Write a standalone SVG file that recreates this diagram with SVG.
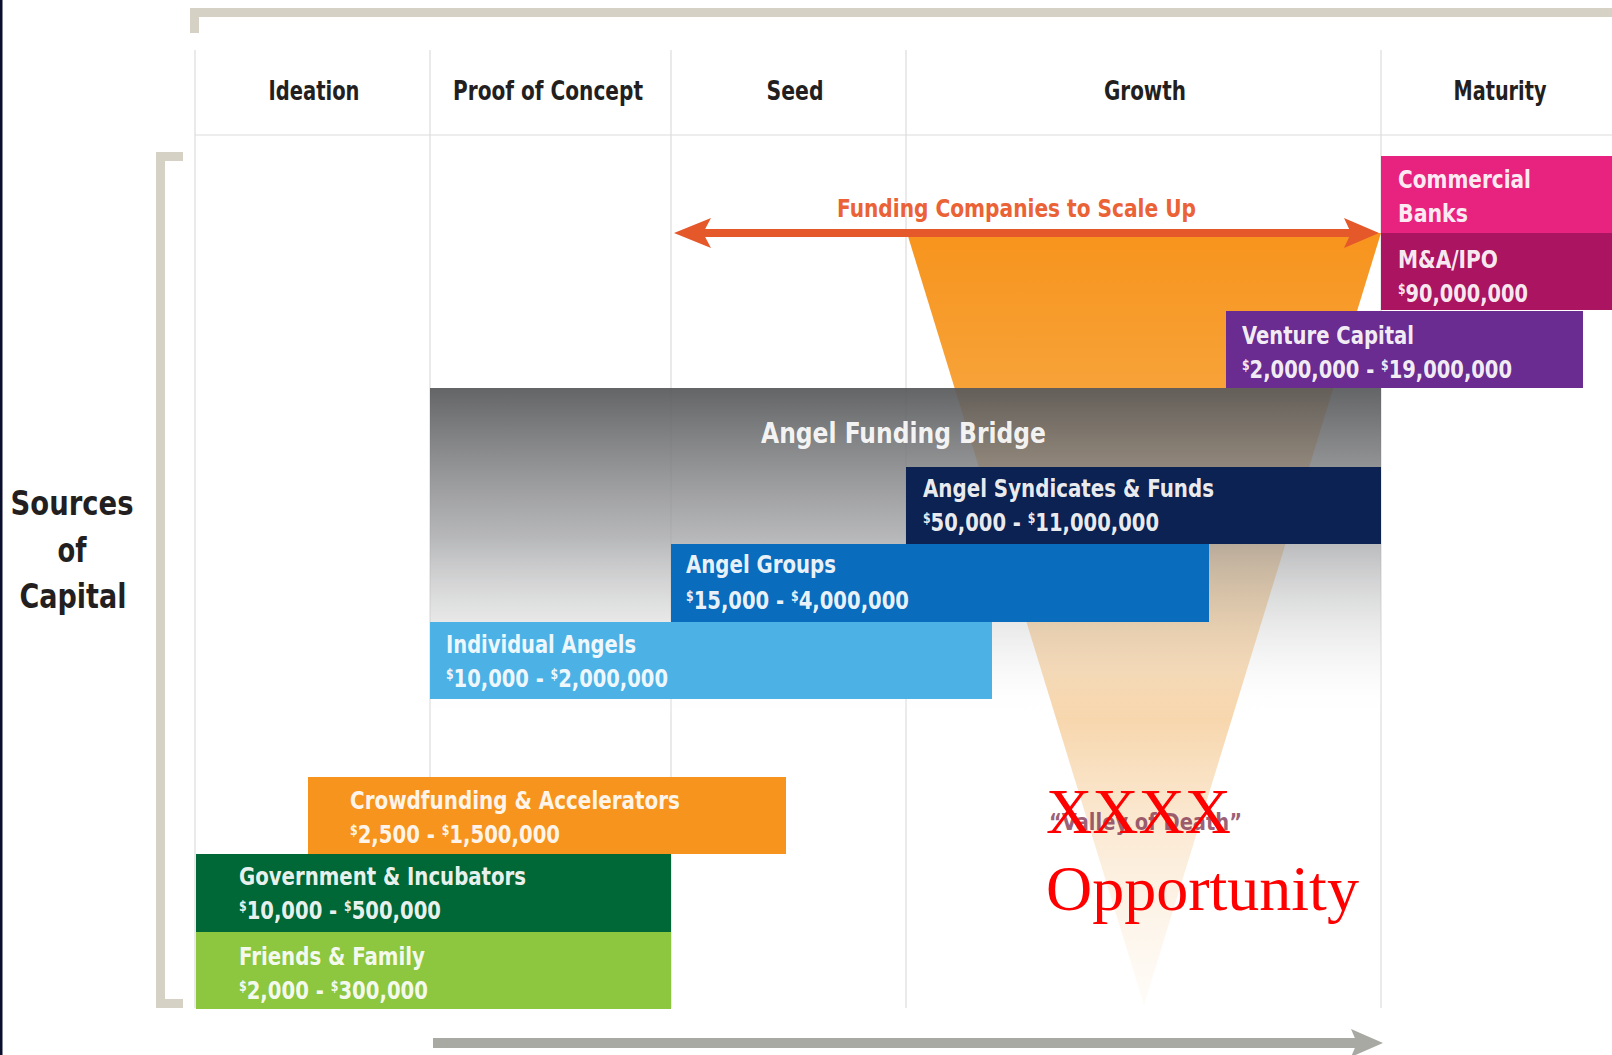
<svg xmlns="http://www.w3.org/2000/svg" width="1612" height="1055" viewBox="0 0 1612 1055">
<style>
.hd{font-family:"Liberation Sans Narrow","DejaVu Sans Condensed","Liberation Sans",sans-serif;font-weight:bold;font-size:27px;fill:#231f20}
.bx{font-family:"Liberation Sans Narrow","DejaVu Sans Condensed","Liberation Sans",sans-serif;font-weight:bold;font-size:25px;fill:#ffffff;fill-opacity:0.93}
.sup{font-size:14px}
.grid{stroke:#dcdcdc;stroke-width:1.2;fill:none}
.brk{fill:#d5d2c5}
.red{font-family:"Liberation Serif","Times New Roman",serif;font-size:64px;fill:#ff0000}
</style>
<defs>
<linearGradient id="funnelG" gradientUnits="userSpaceOnUse" x1="0" y1="233" x2="0" y2="1005">
<stop offset="0" stop-color="#f7941d"/>
<stop offset="0.2" stop-color="#f7a238"/>
<stop offset="0.6" stop-color="#f6d2a4"/>
<stop offset="1" stop-color="#fdf3e6" stop-opacity="0.3"/>
</linearGradient>
<linearGradient id="bridgeG" gradientUnits="userSpaceOnUse" x1="0" y1="388" x2="0" y2="720">
<stop offset="0" stop-color="#58595b" stop-opacity="0.93"/>
<stop offset="0.45" stop-color="#a2a3a5" stop-opacity="0.78"/>
<stop offset="0.85" stop-color="#ececec" stop-opacity="0.35"/>
<stop offset="1" stop-color="#ffffff" stop-opacity="0"/>
</linearGradient>
</defs>
<rect width="1612" height="1055" fill="#ffffff"/>
<rect x="0" y="0" width="2.5" height="1055" fill="#0b0f2e"/>

<g id="frame">
<rect class="brk" x="190" y="8" width="1422" height="9"/>
<rect class="brk" x="190" y="8" width="9" height="25"/>
<rect class="brk" x="156" y="152" width="9" height="856"/>
<rect class="brk" x="156" y="152" width="27" height="9"/>
<rect class="brk" x="156" y="999" width="27" height="9"/>
<line class="grid" x1="195" y1="50" x2="195" y2="1008"/>
<line class="grid" x1="430" y1="50" x2="430" y2="1008"/>
<line class="grid" x1="671" y1="50" x2="671" y2="1008"/>
<line class="grid" x1="906" y1="50" x2="906" y2="1008"/>
<line class="grid" x1="1381" y1="50" x2="1381" y2="1008"/>
<line class="grid" x1="195" y1="135" x2="1612" y2="135"/>
</g>

<g id="headers">
<text class="hd" x="314" y="100" text-anchor="middle" textLength="91" lengthAdjust="spacingAndGlyphs">Ideation</text>
<text class="hd" x="548" y="100" text-anchor="middle" textLength="190" lengthAdjust="spacingAndGlyphs">Proof of Concept</text>
<text class="hd" x="795" y="100" text-anchor="middle" textLength="57" lengthAdjust="spacingAndGlyphs">Seed</text>
<text class="hd" x="1145" y="100" text-anchor="middle" textLength="82" lengthAdjust="spacingAndGlyphs">Growth</text>
<text class="hd" x="1500" y="100" text-anchor="middle" textLength="93" lengthAdjust="spacingAndGlyphs">Maturity</text>
</g>

<g id="sources-label">
<text class="hd" style="font-size:33px" x="72" y="515" text-anchor="middle" textLength="123" lengthAdjust="spacingAndGlyphs">Sources</text>
<text class="hd" style="font-size:33px" x="72" y="562" text-anchor="middle" textLength="29" lengthAdjust="spacingAndGlyphs">of</text>
<text class="hd" style="font-size:33px" x="73" y="608" text-anchor="middle" textLength="107" lengthAdjust="spacingAndGlyphs">Capital</text>
</g>

<g id="valley-funnel">
<polygon points="907,233 1381,233 1144,1005" fill="url(#funnelG)"/>
</g>

<g id="angel-funding-bridge">
<rect x="430" y="388" width="951" height="332" fill="url(#bridgeG)"/>
<text class="bx" x="761" y="443" style="font-size:28px" textLength="285" lengthAdjust="spacingAndGlyphs">Angel Funding Bridge</text>
</g>

<g id="commercial-banks">
<rect x="1381" y="156" width="231" height="77" fill="#e8237f"/>
<text class="bx" x="1398" y="188" textLength="133" lengthAdjust="spacingAndGlyphs">Commercial</text>
<text class="bx" x="1398" y="222" textLength="70" lengthAdjust="spacingAndGlyphs">Banks</text>
</g>

<g id="ma-ipo">
<rect x="1381" y="233" width="231" height="77" fill="#ab1460"/>
<text class="bx" x="1398" y="268" textLength="100" lengthAdjust="spacingAndGlyphs">M&amp;A/IPO</text>
<text class="bx" x="1398" y="302" textLength="130" lengthAdjust="spacingAndGlyphs"><tspan class="sup" dy="-8">$</tspan><tspan dy="8">90,000,000</tspan></text>
</g>

<g id="venture-capital">
<rect x="1226" y="311" width="357" height="77" fill="#6a2c91"/>
<text class="bx" x="1242" y="344" textLength="172" lengthAdjust="spacingAndGlyphs">Venture Capital</text>
<text class="bx" x="1242" y="378" textLength="270" lengthAdjust="spacingAndGlyphs"><tspan class="sup" dy="-8">$</tspan><tspan dy="8">2,000,000 - </tspan><tspan class="sup" dy="-8">$</tspan><tspan dy="8">19,000,000</tspan></text>
</g>

<g id="angel-syndicates">
<rect x="906" y="467" width="475" height="77" fill="#0c2252"/>
<text class="bx" x="923" y="497" textLength="291" lengthAdjust="spacingAndGlyphs">Angel Syndicates &amp; Funds</text>
<text class="bx" x="923" y="531" textLength="236" lengthAdjust="spacingAndGlyphs"><tspan class="sup" dy="-8">$</tspan><tspan dy="8">50,000 - </tspan><tspan class="sup" dy="-8">$</tspan><tspan dy="8">11,000,000</tspan></text>
</g>

<g id="angel-groups">
<rect x="671" y="544" width="538" height="78" fill="#0a6cbd"/>
<text class="bx" x="686" y="573" textLength="150" lengthAdjust="spacingAndGlyphs">Angel Groups</text>
<text class="bx" x="686" y="609" textLength="223" lengthAdjust="spacingAndGlyphs"><tspan class="sup" dy="-8">$</tspan><tspan dy="8">15,000 - </tspan><tspan class="sup" dy="-8">$</tspan><tspan dy="8">4,000,000</tspan></text>
</g>

<g id="individual-angels">
<rect x="430" y="622" width="562" height="77" fill="#4cb2e6"/>
<text class="bx" x="446" y="653" textLength="190" lengthAdjust="spacingAndGlyphs">Individual Angels</text>
<text class="bx" x="446" y="687" textLength="222" lengthAdjust="spacingAndGlyphs"><tspan class="sup" dy="-8">$</tspan><tspan dy="8">10,000 - </tspan><tspan class="sup" dy="-8">$</tspan><tspan dy="8">2,000,000</tspan></text>
</g>

<g id="crowdfunding">
<rect x="308" y="777" width="478" height="77" fill="#f7941d"/>
<text class="bx" x="350" y="809" textLength="330" lengthAdjust="spacingAndGlyphs">Crowdfunding &amp; Accelerators</text>
<text class="bx" x="350" y="843" textLength="210" lengthAdjust="spacingAndGlyphs"><tspan class="sup" dy="-8">$</tspan><tspan dy="8">2,500 - </tspan><tspan class="sup" dy="-8">$</tspan><tspan dy="8">1,500,000</tspan></text>
</g>

<g id="government">
<rect x="196" y="854" width="475" height="78" fill="#006837"/>
<text class="bx" x="239" y="885" textLength="287" lengthAdjust="spacingAndGlyphs">Government &amp; Incubators</text>
<text class="bx" x="239" y="919" textLength="202" lengthAdjust="spacingAndGlyphs"><tspan class="sup" dy="-8">$</tspan><tspan dy="8">10,000 - </tspan><tspan class="sup" dy="-8">$</tspan><tspan dy="8">500,000</tspan></text>
</g>

<g id="friends-family">
<rect x="196" y="932" width="475" height="77" fill="#8dc63f"/>
<text class="bx" x="239" y="965" textLength="186" lengthAdjust="spacingAndGlyphs">Friends &amp; Family</text>
<text class="bx" x="239" y="999" textLength="189" lengthAdjust="spacingAndGlyphs"><tspan class="sup" dy="-8">$</tspan><tspan dy="8">2,000 - </tspan><tspan class="sup" dy="-8">$</tspan><tspan dy="8">300,000</tspan></text>
</g>

<g id="connectors">
<g id="scale-up-arrow">
<line x1="700" y1="233" x2="1355" y2="233" stroke="#e5582a" stroke-width="8"/>
<polygon points="674,233 711,218 703,233 711,248" fill="#e5582a"/>
<polygon points="1379,233 1344,218 1351,233 1344,248" fill="#e5582a"/>
<text x="837" y="217" textLength="359" lengthAdjust="spacingAndGlyphs" style="font-family:'Liberation Sans Narrow','DejaVu Sans Condensed','Liberation Sans',sans-serif;font-weight:bold;font-size:25px;fill:#ea6235">Funding Companies to Scale Up</text>
</g>
<g id="timeline-arrow">
<line x1="433" y1="1043" x2="1360" y2="1043" stroke="#a8a9a2" stroke-width="10"/>
<polygon points="1383,1043 1351,1029 1357,1043 1351,1057" fill="#a8a9a2"/>
</g>
</g>

<g id="valley-label">
<text x="1049" y="830" textLength="193" lengthAdjust="spacingAndGlyphs" style="font-family:'Liberation Sans Narrow','DejaVu Sans Condensed','Liberation Sans',sans-serif;font-weight:bold;font-size:23px;fill:#7b2d4a;fill-opacity:0.75">“Valley of Death”</text>
<text class="red" x="1046" y="833">XXXX</text>
<text class="red" x="1046" y="910">Opportunity</text>
</g>
</svg>
